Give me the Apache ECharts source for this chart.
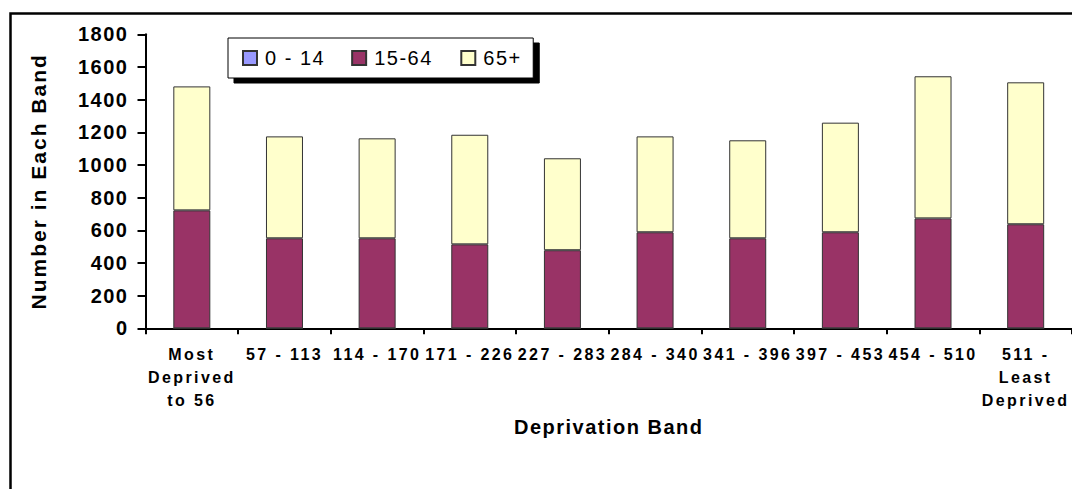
<!DOCTYPE html>
<html>
<head>
<meta charset="utf-8">
<script src="https://cdn.jsdelivr.net/npm/echarts@6/dist/echarts.min.js"></script>
<style>
  html, body { margin: 0; padding: 0; background: #ffffff; }
  #chart { width: 1072px; height: 489px; }
  /* slightly tracked lettering for the chart text */
  #chart text { letter-spacing: 2px; }
  #chart text[style*="16px"] { letter-spacing: 2.4px; }
  #chart text[style*="20px"] { letter-spacing: 1.5px; }
</style>
</head>
<body>
<div id="chart"></div>
<script>
// Deprivation bands along the x axis
const bands = [
  'Most\nDeprived\nto 56', '57 - 113', '114 - 170', '171 - 226', '227 - 283',
  '284 - 340', '341 - 396', '397 - 453', '454 - 510', '511 -\nLeast\nDeprived'
];
// Population counts per age group in each band
const age0to14  = [0, 0, 0, 0, 0, 0, 0, 0, 0, 0];
const age15to64 = [722, 551, 551, 514, 478, 588, 551, 588, 673, 637];
const age65plus = [759, 624, 612, 671, 563, 587, 600, 671, 870, 869];

const seriesNames = ['0 - 14', '15-64', '65+'];
const seriesColors = ['#9999FF', '#993366', '#FFFFCC'];
const seriesData = [age0to14, age15to64, age65plus];

const chart = echarts.init(document.getElementById('chart'), null, { renderer: 'svg' });

const font = 'Arial, "Liberation Sans", sans-serif';

chart.setOption({
  backgroundColor: '#ffffff',
  animation: false,
  graphic: [{
    type: 'rect',
    left: 8, top: 11,
    shape: { x: 0, y: 0, width: 1200, height: 600 },
    style: { fill: 'none', stroke: '#000000', lineWidth: 2.5 },
    silent: true
  }],
  legend: {
    left: 228, top: 38,
    orient: 'horizontal',
    selectedMode: false,
    itemWidth: 14, itemHeight: 14, itemGap: 35,
    padding: [10, 16, 10, 14],
    backgroundColor: '#ffffff',
    borderColor: '#000000', borderWidth: 1,
    shadowColor: '#000000', shadowBlur: 0, shadowOffsetX: 6, shadowOffsetY: 5,
    icon: 'rect',
    textStyle: { fontFamily: font, fontSize: 20, color: '#000000', padding: [0, 0, 0, 3] },
    data: seriesNames
  },
  grid: { left: 145.5, top: 34.3, width: 931, height: 294, containLabel: false },
  xAxis: {
    type: 'category',
    data: bands,
    boundaryGap: true,
    name: 'Deprivation Band',
    nameLocation: 'middle',
    nameGap: 78,
    nameTextStyle: { fontFamily: font, fontSize: 20, fontWeight: 'bold', color: '#000000' },
    axisLine: { lineStyle: { color: '#000000', width: 2 } },
    axisTick: { show: true, interval: 0, length: 6, lineStyle: { color: '#000000', width: 2 } },
    axisLabel: {
      interval: 0, margin: 15,
      fontFamily: font, fontSize: 16, fontWeight: 'bold', color: '#000000', lineHeight: 23
    },
    splitLine: { show: false }
  },
  yAxis: {
    type: 'value',
    min: 0, max: 1800, interval: 200,
    name: 'Number in Each Band',
    nameLocation: 'middle',
    nameGap: 97,
    nameTextStyle: { fontFamily: font, fontSize: 21, fontWeight: 'bold', color: '#000000' },
    axisLine: { show: true, lineStyle: { color: '#000000', width: 2 } },
    axisTick: { show: true, length: 8, lineStyle: { color: '#000000', width: 2 } },
    axisLabel: {
      margin: 17, fontFamily: font, fontSize: 20, fontWeight: 'bold', color: '#000000',
      formatter: v => String(v)
    },
    splitLine: { show: false }
  },
  series: seriesNames.map((name, i) => ({
    name: name,
    type: 'bar',
    stack: 'total',
    barWidth: 37,
    data: seriesData[i],
    itemStyle: { color: seriesColors[i], borderColor: '#333333', borderWidth: 1 }
  }))
});
</script>
</body>
</html>
